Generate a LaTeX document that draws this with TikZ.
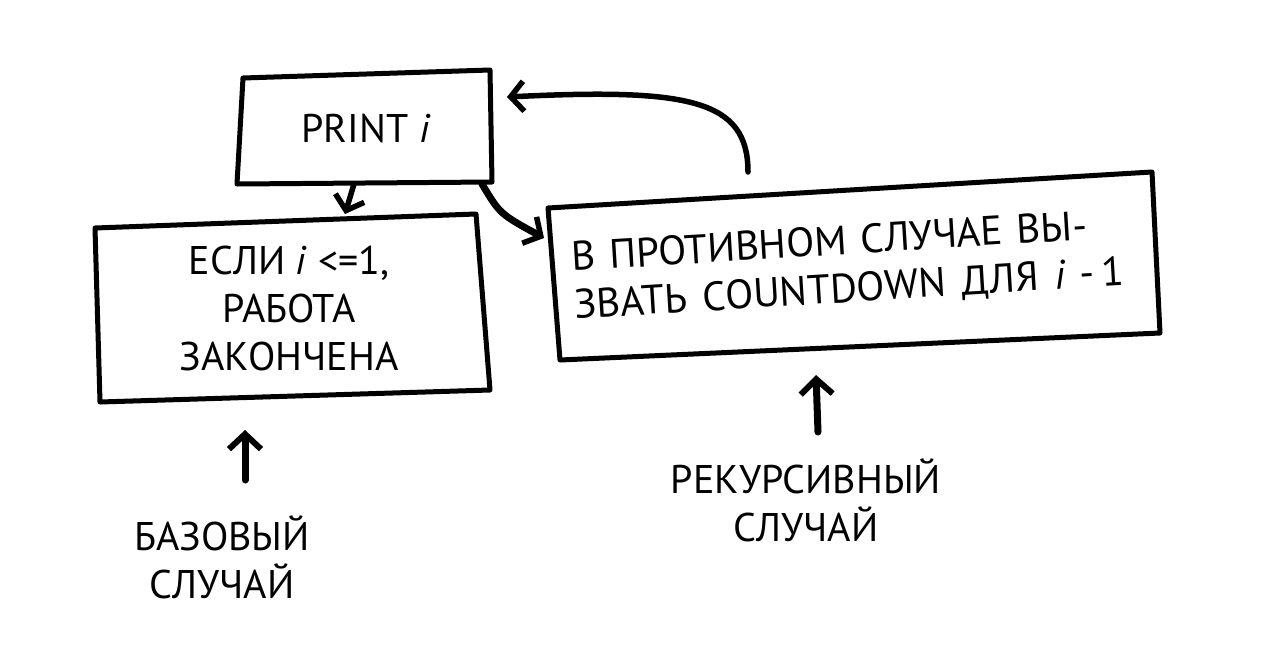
\documentclass[tikz,border=0pt]{standalone}
\usepackage{fontspec}
\setmainfont{PT Sans}
\usetikzlibrary{arrows.meta}
\begin{document}
\begin{tikzpicture}[x=1pt,y=-1pt,
 box/.style={line width=5pt, line join=round, line cap=round},
 lbl/.style={font=\fontsize{40}{46}\selectfont, align=center, inner sep=0pt},
 conn/.style={line width=5.5pt, line cap=round, -{Straight Barb[length=13pt,width=30pt,line width=5.5pt]}},
 uparr/.style={line width=7pt, line cap=round, -{Straight Barb[length=15pt,width=32pt,line width=6pt]}},
]
\useasboundingbox (0,0) rectangle (1264,662);
% PRINT box
\coordinate (p1) at (243,78); \coordinate (p2) at (490,70);
\coordinate (p3) at (492,182); \coordinate (p4) at (237,184);
\draw[box] (p1) -- (p2) -- (p3) -- (p4) -- cycle;
\node[lbl] (ptxt) at (366,128) {PRINT \textit{i}};
% left box
\coordinate (l1) at (95,228); \coordinate (l2) at (476,214);
\coordinate (l3) at (490,390); \coordinate (l4) at (100,402);
\draw[box] (l1) -- (l2) -- (l3) -- (l4) -- cycle;
\node[lbl] (ltxt) at (289,308) {ЕСЛИ \textit{i} <=1,\\[2pt] РАБОТА\\[2pt] ЗАКОНЧЕНА};
% right box
\coordinate (r1) at (548,208); \coordinate (r2) at (1152,172);
\coordinate (r3) at (1160,333); \coordinate (r4) at (560,360);
\draw[box] (r1) -- (r2) -- (r3) -- (r4) -- cycle;
\node[lbl, align=left, anchor=west, rotate=3.5, font=\fontsize{41}{46}\selectfont] (rtxt) at (573,283)
  {В\hspace{3pt} ПРОТИВНОМ\hspace{3pt} СЛУЧАЕ\hspace{3pt} ВЫ-\\[2pt]
   ЗВАТЬ\hspace{5pt} COUNTDOWN\hspace{5pt} ДЛЯ\hspace{5pt} \textit{i}\,\,-\,1};
% connectors
\coordinate (a1s) at (354,184); \coordinate (a1e) at (345,214);
\draw[conn] (a1s) -- (a1e);
\coordinate (a2s) at (482,184); \coordinate (a2e) at (544,238);
\draw[conn, line width=7pt] (a2s) .. controls (500,214) .. (a2e);
\coordinate (a3s) at (748,172); \coordinate (a3e) at (507,97);
\draw[conn] (a3s) .. controls (748,100) and (690,88) .. (a3e);
% labels
\coordinate (b1) at (245,480); \coordinate (b2) at (245,430);
\draw[uparr] (b1) -- (b2);
\node[lbl] (base) at (222,557) {БАЗОВЫЙ\\[2pt] СЛУЧАЙ};
\coordinate (c1) at (818,432); \coordinate (c2) at (816,375);
\draw[uparr] (c1) -- (c2);
\node[lbl] (rec) at (806,500) {РЕКУРСИВНЫЙ\\[2pt] СЛУЧАЙ};
\end{tikzpicture}
\end{document}
